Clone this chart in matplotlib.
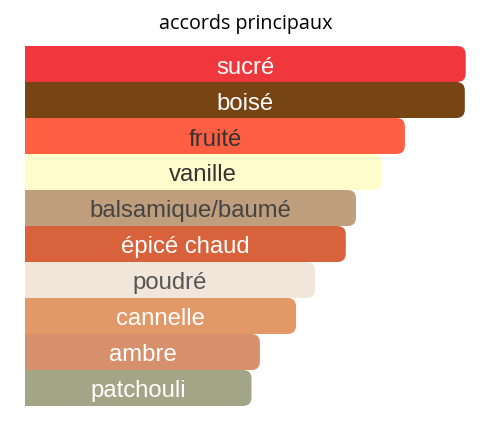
import matplotlib
matplotlib.use("Agg")
import matplotlib.pyplot as plt
from matplotlib.patches import FancyBboxPatch
import numpy as np

# accords principaux (intensité relative, sucré = 100)
accords = ["sucré", "boisé", "fruité", "vanille", "balsamique/baumé",
           "épicé chaud", "poudré", "cannelle", "ambre", "patchouli"]
intensite = [100, 99.8, 86.2, 80.9, 75.1, 72.8, 65.8, 61.5, 53.3, 51.4]
couleurs = ["#F0373E", "#774414", "#FE5F43", "#FFFDCC", "#BF9E7E",
            "#D8623B", "#F2E6DA", "#E29867", "#D6916C", "#A3A686"]
texte_couleurs = ["#FFFFFF", "#FFFFFF", "#333333", "#333333", "#444444",
                  "#FFFFFF", "#555555", "#FFFFFF", "#FFFFFF", "#FFFFFF"]

W, H = 488, 431
fig = plt.figure(figsize=(W / 100, H / 100), dpi=100)
left, right, top, bottom = 25, 465.7, 47, 407
ax = fig.add_axes([left / W, 1 - bottom / H, (right - left) / W, (bottom - top) / H])
ax.set_xlim(0, 100)
ax.set_ylim(len(accords) - 0.5, -0.5)
ax.axis("off")

# rayon des coins arrondis (px -> unités)
r_px = 8.5
px_x = (right - left) / 100
px_y = (bottom - top) / len(accords)
r = r_px / px_x
aspect = px_x / px_y

y = np.arange(len(accords))
vals = np.array(intensite)
# partie carrée à gauche
ax.barh(y, vals - r * 2, height=1.0, color=couleurs, linewidth=0)
# extrémité droite arrondie
for yi, v, c in zip(y, vals, couleurs):
    p = FancyBboxPatch((v - r * 4, yi - 0.5), r * 4, 1.0,
                       boxstyle=f"round,pad=0,rounding_size={r}",
                       mutation_aspect=aspect,
                       facecolor=c, edgecolor="none", linewidth=0)
    ax.add_patch(p)

for yi, v, lab, tc in zip(y, vals, accords, texte_couleurs):
    ax.text(v / 2, yi, lab, ha="center", va="center_baseline",
            color=tc, fontsize=17.2, family="Liberation Sans")

fig.text(245.5 / W, 1 - 24.5 / H, "accords principaux", ha="center", va="center",
         fontsize=14.2, family="Open Sans", color="black")

fig.savefig("out.png", dpi=100)
